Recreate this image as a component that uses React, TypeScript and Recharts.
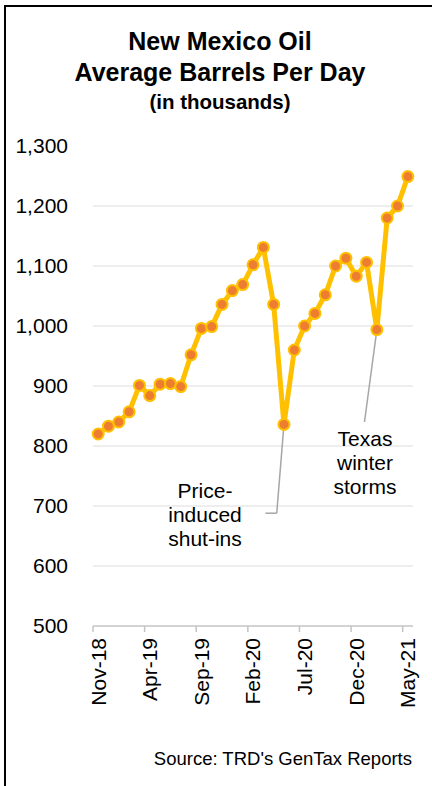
import React from "react";
import { LineChart, Line, XAxis, YAxis, CartesianGrid, ReferenceLine } from "recharts";

const MONTHS = ["Nov-18","Dec-18","Jan-19","Feb-19","Mar-19","Apr-19","May-19","Jun-19","Jul-19","Aug-19","Sep-19","Oct-19","Nov-19","Dec-19","Jan-20","Feb-20","Mar-20","Apr-20","May-20","Jun-20","Jul-20","Aug-20","Sep-20","Oct-20","Nov-20","Dec-20","Jan-21","Feb-21","Mar-21","Apr-21","May-21"];
const BARRELS = [820, 833, 840, 857, 901, 884, 903, 904, 899, 952, 996, 999, 1036, 1059, 1069, 1102, 1131, 1036, 836, 960, 1000, 1021, 1052, 1100, 1113, 1083, 1106, 994, 1180, 1200, 1249];
const X_TICKS = [0, 5, 10, 15, 20, 25, 30];
const Y_TICKS = [500, 600, 700, 800, 900, 1000, 1100, 1200, 1300];
const GRID_VALUES = [600, 700, 800, 900, 1000, 1100, 1200];

const TITLE = ["New Mexico Oil", "Average Barrels Per Day"];
const SUBTITLE = "(in thousands)";
const SOURCE = "Source: TRD's GenTax Reports";
const NOTE_PRICE = ["Price-", "induced", "shut-ins"];
const NOTE_TEXAS = ["Texas", "winter", "storms"];

const data = BARRELS.map((v, i) => ({ idx: i, month: MONTHS[i], value: v }));

const W = 432;
const H = 786;
const MARGIN = { top: 146, right: 19, bottom: 80, left: 13 };
const Y_W = 80;
const X_H = 80;
const PLOT_W = W - MARGIN.left - MARGIN.right - Y_W;
const FONT = "'Liberation Sans', Arial, sans-serif";
const AXIS_GRAY = "#c4c4c4";

const XTick = (props: any) => {
  const { x, y, payload } = props;
  const half = PLOT_W / MONTHS.length / 2;
  const ay = y - 12;
  return (
    <g>
      <line x1={x - half} x2={x - half} y1={ay} y2={ay + 6} stroke={AXIS_GRAY} strokeWidth={1.5} />
      <text
        x={x}
        y={y}
        transform={`rotate(-90 ${x} ${y})`}
        textAnchor="end"
        dy="0.355em"
        fontSize={21}
        fontFamily={FONT}
        fill="#000"
      >
        {MONTHS[payload.value]}
      </text>
    </g>
  );
};

export default function App() {
  return (
    <div style={{ position: "absolute", left: 0, top: 0, width: W, height: H, overflow: "hidden", background: "#fff" }}>
      <div
        style={{
          position: "absolute",
          left: 4,
          top: 5,
          width: 600,
          height: 1000,
          borderLeft: "2px solid #000",
          borderTop: "2px solid #000",
        }}
      />
      <div style={{ position: "absolute", left: 0, top: 0 }}>
        <LineChart width={W} height={H} data={data} margin={MARGIN}>
          <CartesianGrid vertical={false} stroke="#e8e8e8" strokeWidth={1.5} horizontalValues={GRID_VALUES} />
          <XAxis
            dataKey="idx"
            type="number"
            domain={[-0.5, 30.5]}
            ticks={X_TICKS}
            interval={0}
            height={X_H}
            tickLine={false}
            tickSize={0}
            tickMargin={12}
            axisLine={{ stroke: AXIS_GRAY, strokeWidth: 1.5 }}
            tick={<XTick />}
          />
          <YAxis
            type="number"
            domain={[500, 1300]}
            ticks={Y_TICKS}
            interval={0}
            width={Y_W}
            axisLine={false}
            tickLine={false}
            tickSize={0}
            tickMargin={25}
            tickFormatter={(v: number) => v.toLocaleString("en-US")}
            tick={{ fontSize: 21, fill: "#000", fontFamily: FONT }}
          />
          <Line
            dataKey="value"
            stroke="#FFC000"
            strokeWidth={5}
            strokeLinejoin="round"
            dot={{ r: 5.5, fill: "#ED7D31", stroke: "#FFC000", strokeWidth: 2 }}
            activeDot={false}
            isAnimationActive={false}
          />
          <ReferenceLine segment={[{ x: 18, y: 836 }, { x: 17.3, y: 688 }]} stroke="#a6a6a6" strokeWidth={1.5} />
          <ReferenceLine segment={[{ x: 17.3, y: 688 }, { x: 16.2, y: 688 }]} stroke="#a6a6a6" strokeWidth={1.5} />
          <ReferenceLine segment={[{ x: 27, y: 994 }, { x: 25.8, y: 840 }]} stroke="#a6a6a6" strokeWidth={1.5} />
        </LineChart>
      </div>
      <svg
        width={W}
        height={H}
        style={{ position: "absolute", left: 0, top: 0, pointerEvents: "none" }}
        fontFamily={FONT}
      >
        <text x={220} y={50} textAnchor="middle" fontSize={25} fontWeight="bold" fill="#000">{TITLE[0]}</text>
        <text x={220} y={81} textAnchor="middle" fontSize={25} fontWeight="bold" fill="#000">{TITLE[1]}</text>
        <text x={220} y={109} textAnchor="middle" fontSize={20.5} fontWeight="bold" fill="#000">{SUBTITLE}</text>
        {NOTE_PRICE.map((t, i) => (
          <text key={t} x={205} y={498 + i * 24} textAnchor="middle" fontSize={21} fill="#000">{t}</text>
        ))}
        {NOTE_TEXAS.map((t, i) => (
          <text key={t} x={365} y={446 + i * 24} textAnchor="middle" fontSize={21} fill="#000">{t}</text>
        ))}
        <text x={412} y={765} textAnchor="end" fontSize={18.5} fill="#000">{SOURCE}</text>
      </svg>
    </div>
  );
}
